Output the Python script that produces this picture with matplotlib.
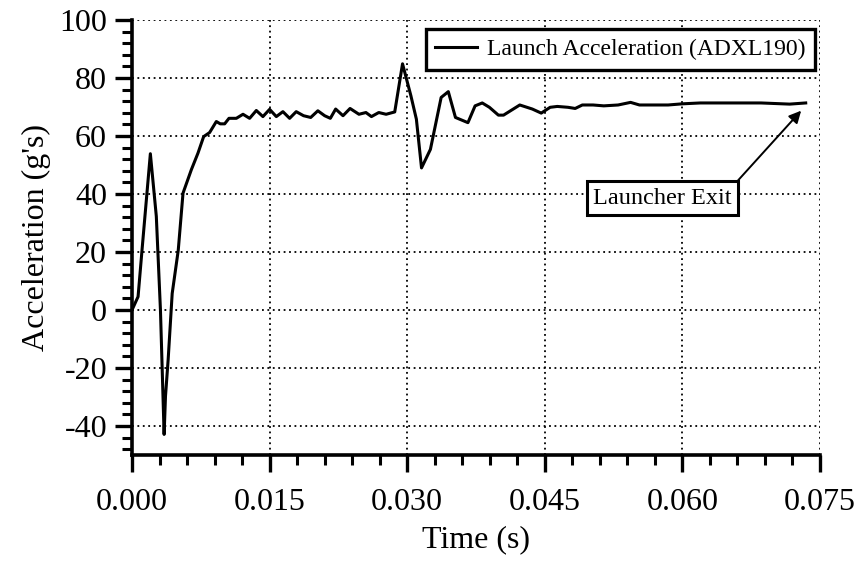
import numpy as np
import matplotlib
matplotlib.use("Agg")
import matplotlib.pyplot as plt
from matplotlib.ticker import MultipleLocator, AutoMinorLocator, FormatStrFormatter

plt.rcParams['font.family'] = ['Liberation Serif', 'DejaVu Serif']
plt.rcParams['axes.unicode_minus'] = False

# ADXL190 trace during launch, time in s and acceleration in g's
t = [0.0, 0.00066, 0.0011, 0.0020, 0.00265, 0.0031, 0.0035, 0.00365, 0.00394,
     0.00438, 0.00504, 0.00556, 0.00647, 0.00719, 0.00781, 0.00846, 0.00919,
     0.00962, 0.0101, 0.01057, 0.01137, 0.0121, 0.01282, 0.01355, 0.01427,
     0.0150, 0.01573, 0.01645, 0.01718, 0.0179, 0.0187, 0.01948, 0.02026,
     0.0210, 0.02162, 0.0222, 0.0230, 0.02377, 0.02474, 0.0255, 0.0261,
     0.0269, 0.0277, 0.02864, 0.02949, 0.0304, 0.0310, 0.03156, 0.03253,
     0.0337, 0.03448, 0.03526, 0.03662, 0.0374, 0.03818, 0.03896, 0.03994,
     0.0405, 0.04227, 0.04364, 0.04461, 0.04558, 0.04636, 0.04753, 0.04831,
     0.04909, 0.05026, 0.05143, 0.05299, 0.05435, 0.05532, 0.05688, 0.05844,
     0.0600, 0.06195, 0.06468, 0.06857, 0.07169, 0.07344]
acc = [0.0, 4.6, 21.0, 53.9, 32.3, 0.0, -42.9, -29.7, -17.1,
       5.7, 20.6, 40.3, 48.4, 54.1, 59.8, 61.2, 65.0,
       64.2, 64.2, 66.1, 66.1, 67.5, 66.1, 68.8, 66.7,
       69.2, 66.7, 68.4, 66.1, 68.4, 67.0, 66.4, 68.7,
       67.0, 66.1, 69.3, 67.0, 69.5, 67.5, 68.1, 66.7,
       68.1, 67.5, 68.3, 84.9, 73.9, 65.8, 49.0, 55.4,
       73.3, 75.3, 66.4, 64.6, 70.4, 71.4, 69.9, 67.2,
       67.2, 70.7, 69.3, 67.9, 69.9, 70.2, 69.9, 69.5,
       70.7, 70.7, 70.4, 70.7, 71.6, 70.7, 70.7, 70.7,
       71.1, 71.4, 71.4, 71.4, 71.0, 71.4]

exit_point = (0.07325, 69.8)
exit_text = (0.0578, 38.6)

fig = plt.figure(figsize=(8.6, 5.67), dpi=100)
ax = fig.add_axes([0.1535, 0.1975, 0.8, 0.7672])

ax.plot(t, acc, color='black', lw=2.2, label="Launch Acceleration (ADXL190)")

ax.set_xlim(0, 0.075)
ax.set_ylim(-50, 100)
ax.xaxis.set_major_locator(MultipleLocator(0.015))
ax.xaxis.set_minor_locator(AutoMinorLocator(5))
ax.xaxis.set_major_formatter(FormatStrFormatter('%.3f'))
ax.yaxis.set_major_locator(MultipleLocator(20))
ax.yaxis.set_minor_locator(AutoMinorLocator(5))

ax.grid(True, which='major', color='black', lw=1.3, linestyle=(0, (1, 2)))
for s in ['top', 'right']:
    ax.spines[s].set_visible(False)
for s in ['left', 'bottom']:
    ax.spines[s].set_linewidth(2.6)

ax.tick_params(which='major', length=12, width=2.4, labelsize=23, pad=6)
ax.tick_params(which='minor', length=7.5, width=2.2)
ax.tick_params(axis='x', which='major', pad=12)

ax.set_xlabel("Time (s)", fontsize=23, labelpad=6)
ax.set_ylabel("Acceleration (g's)", fontsize=23, labelpad=6)

leg = ax.legend(loc='upper right', bbox_to_anchor=(0.993, 0.979), fontsize=17,
                frameon=True, fancybox=False, handlelength=1.75,
                borderpad=0.4, handletextpad=0.45, borderaxespad=0)
leg.get_frame().set_edgecolor('black')
leg.get_frame().set_linewidth(2.4)
leg.get_frame().set_alpha(1)

ax.annotate("Launcher Exit", xy=exit_point, xytext=exit_text,
            ha='center', va='center', fontsize=17.5,
            bbox=dict(boxstyle='square,pad=0.25', fc='white', ec='black', lw=2.2),
            arrowprops=dict(arrowstyle='-|>', color='black', lw=1.4,
                            relpos=(1.0, 1.0), shrinkA=0, shrinkB=3,
                            mutation_scale=18))

fig.savefig("out.png", dpi=100)
